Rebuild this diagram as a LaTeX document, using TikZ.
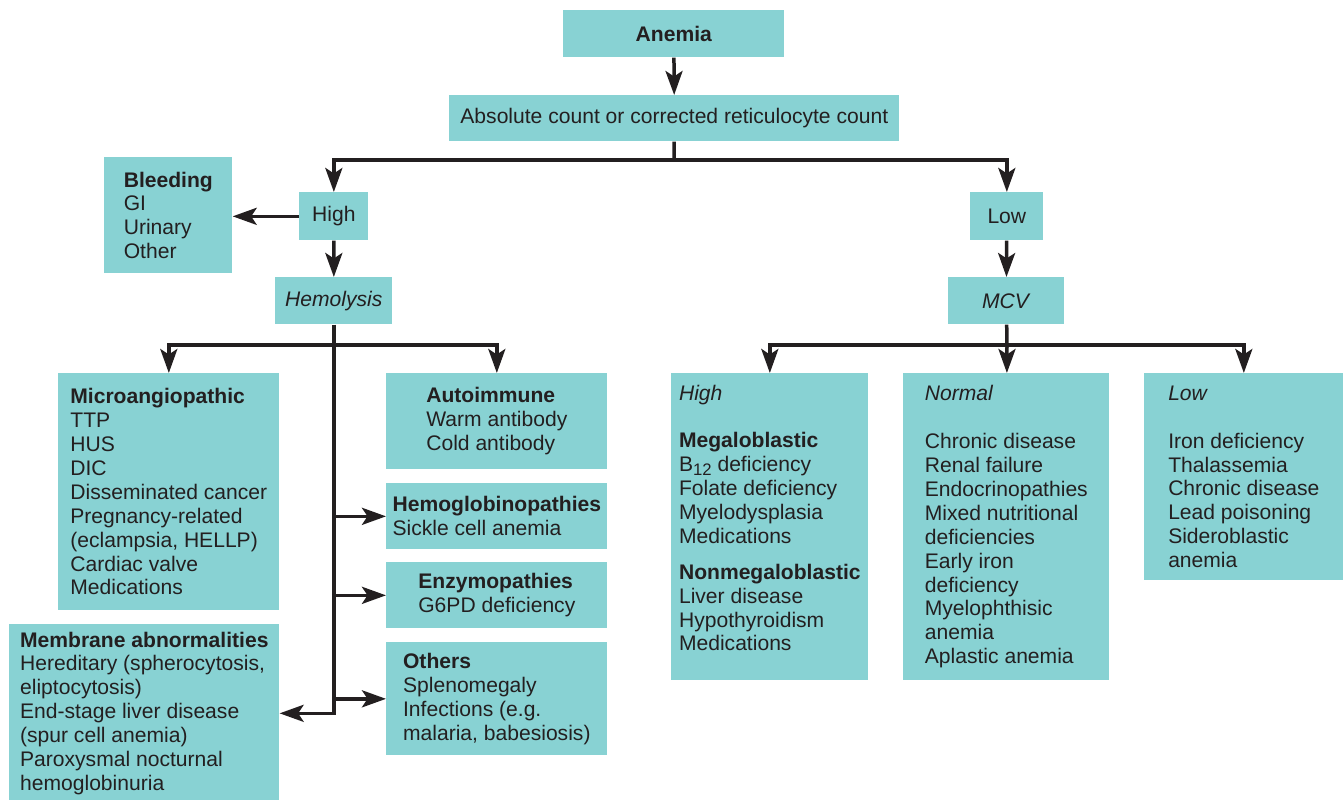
\documentclass[tikz,border=0pt]{standalone}
\usepackage{fontspec}
\setmainfont{Liberation Sans}
\usetikzlibrary{arrows.meta}
\definecolor{boxc}{RGB}{136,210,211}
\definecolor{ink}{RGB}{35,31,32}

\begin{document}
\begin{tikzpicture}[x=0.02cm,y=-0.02cm,>={Stealth[length=0.48cm,width=0.34cm,inset=0.11cm]},font=\fontsize{12pt}{13.6pt}\selectfont,color=ink]
\tikzstyle{b}=[fill=boxc,align=left,inner sep=0pt,anchor=north west]
\tikzstyle{l}=[line width=0.07cm,draw=ink]
\useasboundingbox (0,0) rectangle (1343,800);
\node[b,align=center,minimum width=4.42cm,minimum height=0.94cm] (anemia) at (563,10) {\textbf{Anemia}};
\node[b,align=center,minimum width=9cm,minimum height=0.92cm] (retic) at (449,95) {Absolute count or corrected reticulocyte count};
\node[b,align=center,minimum width=1.38cm,minimum height=0.96cm] (high) at (299,192) {High};
\node[b,align=center,minimum width=1.46cm,minimum height=0.96cm] (low) at (970,192) {Low};
\node[b,minimum width=2.56cm,minimum height=2.32cm] (bleeding) at (104,157) {\textbf{Bleeding}\\GI\\Urinary\\Other};
\node[b,align=center,minimum width=2.34cm,minimum height=0.94cm] (hemolysis) at (275,277) {\textit{Hemolysis}};
\node[b,align=center,minimum width=2.32cm,minimum height=0.94cm] (mcv) at (948,277) {\textit{MCV}};
\node[b,minimum width=4.42cm,minimum height=4.74cm] (micro) at (58,373) {\textbf{Microangiopathic}\\TTP\\HUS\\DIC\\Disseminated cancer\\Pregnancy-related\\(eclampsia, HELLP)\\Cardiac valve\\Medications};
\node[b,minimum width=4.42cm,minimum height=1.92cm] (autoimm) at (386,373) {\textbf{Autoimmune}\\Warm antibody\\Cold antibody};
\node[b,minimum width=4.42cm,minimum height=1.32cm] (hemoglob) at (386,483) {\textbf{Hemoglobinopathies}\\Sickle cell anemia};
\node[b,minimum width=4.42cm,minimum height=1.32cm] (enzymo) at (386,562) {\textbf{Enzymopathies}\\G6PD deficiency};
\node[b,minimum width=4.42cm,minimum height=2.26cm] (others) at (386,642) {\textbf{Others}\\Splenomegaly\\Infections (e.g.\\malaria, babesiosis)};
\node[b,minimum width=5.4cm,minimum height=3.56cm] (membrane) at (9,624) {\textbf{Membrane abnormalities}\\Hereditary (spherocytosis,\\eliptocytosis)\\End-stage liver disease\\(spur cell anemia)\\Paroxysmal nocturnal\\hemoglobinuria};
\node[b,minimum width=3.94cm,minimum height=6.14cm] (mhigh) at (671,373) {\textit{High}\\[13.6pt]\textbf{Megaloblastic}\\B\raisebox{-0.35ex}{\fontsize{9.5pt}{9.5pt}\selectfont 12} deficiency\\Folate deficiency\\Myelodysplasia\\Medications\\[6.8pt]\textbf{Nonmegaloblastic}\\Liver disease\\Hypothyroidism\\Medications\rule[-0.36cm]{0pt}{0.36cm}};
\node[b,minimum width=4.12cm,minimum height=6.14cm] (mnormal) at (903,373) {\textit{Normal}\\[13.6pt]Chronic disease\\Renal failure\\Endocrinopathies\\Mixed nutritional\\deficiencies\\Early iron\\deficiency\\Myelophthisic\\anemia\\Aplastic anemia};
\node[b,minimum width=3.98cm,minimum height=4.14cm] (mlow) at (1144,373) {\textit{Low}\\[13.6pt]Iron deficiency\\Thalassemia\\Chronic disease\\Lead poisoning\\Sideroblastic\\anemia};
\coordinate (rsplit) at (674,160); \coordinate (hsplit) at (333.5,345); \coordinate (msplit) at (1007,345);
\draw[l,->] (anemia) -- (retic);
\draw[l] (retic) -- (rsplit); \draw[l,->] (rsplit) -| (high); \draw[l,->] (rsplit) -| (low);
\draw[l,->] (high.west) -- (high.west -| bleeding.east); \draw[l,->] (high) -- (hemolysis); \draw[l,->] (low) -- (mcv);
\draw[l,->] (hemolysis) |- (membrane);
\draw[l,->] (hsplit) -| (micro); \draw[l,->] (hsplit) -| (autoimm);
\draw[l,->] (hsplit |- hemoglob) -- (hemoglob); \draw[l,->] (hsplit |- enzymo) -- (enzymo); \draw[l,->] (hsplit |- others) -- (others);
\draw[l] (mcv) -- (msplit); \draw[l,->] (msplit) -| (mhigh); \draw[l,->] (msplit) -- (mnormal); \draw[l,->] (msplit) -| (mlow);
\end{tikzpicture}
\end{document}
